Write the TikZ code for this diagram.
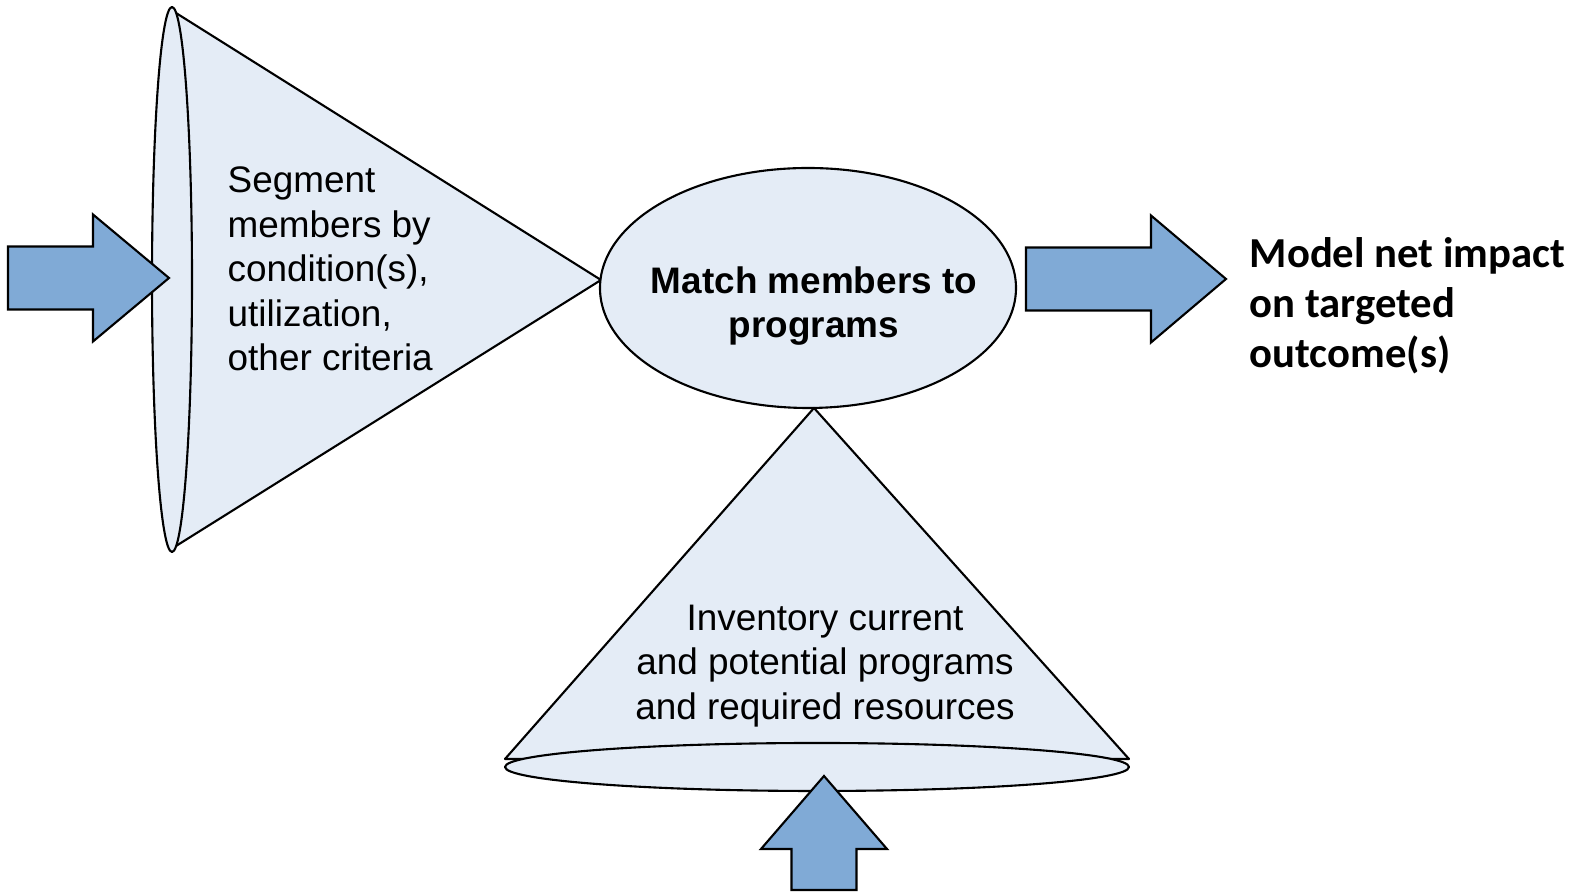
\documentclass[tikz,border=0pt]{standalone}
\usepackage{fontspec}
\setmainfont{Liberation Sans}
\newfontfamily\calibrifont{Carlito}
\usetikzlibrary{shapes.geometric}
\definecolor{conefill}{HTML}{E4ECF6}
\definecolor{arrowblue}{HTML}{80AAD6}

\begin{document}
\begin{tikzpicture}[
    every node/.style={inner sep=0pt, font=\fontsize{10.5}{12.7}\selectfont},
    cone/.style={draw=black, line width=0.6pt, fill=conefill, line join=round},
    blockarrow/.style={draw=black, line width=0.6pt, fill=arrowblue, line join=miter}
]
\useasboundingbox (0,0) rectangle (15.75,-8.93);
% left cone
\coordinate (lapex) at (6.01,-2.80);
\draw[cone] (1.76,-0.13) -- (lapex) -- (1.76,-5.46) -- cycle;
\node[cone, ellipse, minimum width=0.40cm, minimum height=5.45cm] (lrim) at (1.72,-2.795) {};
\draw[blockarrow] (0.08,-2.465) -- (0.93,-2.465) -- (0.93,-2.145) -- (1.69,-2.78) -- (0.93,-3.415) -- (0.93,-3.095) -- (0.08,-3.095) -- cycle;
% middle
\node[cone, ellipse, minimum width=4.16cm, minimum height=2.40cm] (match) at (8.08,-2.88) {};
\draw[blockarrow] (10.26,-2.475) -- (11.51,-2.475) -- (11.51,-2.155) -- (12.26,-2.79) -- (11.51,-3.425) -- (11.51,-3.105) -- (10.26,-3.105) -- cycle;
% bottom cone
\coordinate (bapex) at (8.14,-4.08);
\draw[cone] (5.05,-7.59) -- (bapex) -- (11.29,-7.59) -- cycle;
\node[cone, ellipse, minimum width=6.24cm, minimum height=0.48cm] (brim) at (8.17,-7.67) {};
\draw[blockarrow] (8.24,-7.76) -- (8.87,-8.49) -- (8.565,-8.49) -- (8.565,-8.90) -- (7.915,-8.90) -- (7.915,-8.49) -- (7.61,-8.49) -- cycle;
% texts
\node[align=left, anchor=west] (segtext) at (2.27,-2.69) {Segment\\members by\\condition(s),\\utilization,\\other criteria};
\node[align=center, font=\bfseries\fontsize{10.5}{12.7}\selectfont] (matchtext) at (8.14,-3.06) {Match members to\\programs};
\node[align=center] (invtext) at (8.25,-6.66) {Inventory current\\and potential programs\\and required resources};
\node[align=left, anchor=west, font=\calibrifont\bfseries\fontsize{12.15}{14.3}\selectfont] (outtext) at (12.49,-3.06) {Model net impact\\on targeted\\outcome(s)};
\end{tikzpicture}
\end{document}
